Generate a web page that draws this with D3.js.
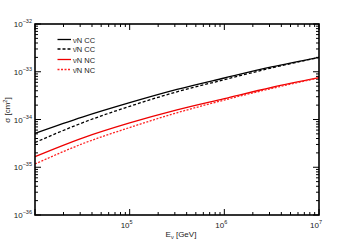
<!DOCTYPE html>
<html>
<head>
<meta charset="utf-8">
<script src="https://cdn.jsdelivr.net/npm/d3@7"></script>
<style>
  body { margin: 0; background: #fff; }
  svg text { font-family: "Liberation Sans", Arial, sans-serif; fill: #222; }
</style>
</head>
<body>
<svg id="chart" width="355" height="240"></svg>
<script>
// energies (GeV) where the curves were read
const energies = [1e4, 3.16e4, 1e5, 3.16e5, 1e6, 3.16e6, 1e7];
// log10 of sigma [cm^2]
const nuCC = [-34.29, -33.95, -33.648, -33.37, -33.131, -32.90, -32.697];
const nubarCC = [-34.482, -34.07, -33.724, -33.42, -33.166, -32.92, -32.70];
const nuNC = [-34.779, -34.39, -34.073, -33.80, -33.564, -33.33, -33.125];
const nubarNC = [-34.932, -34.51, -34.168, -33.86, -33.592, -33.35, -33.13];

const seriesNames = ["\u03BDN CC", "\u03BD\u0304N CC", "\u03BDN NC", "\u03BD\u0304N NC"];
const seriesColors = ["#000", "#000", "#e00", "#f22"];
const seriesDash = [null, "3,2", null, "2,1.5"];

const xTickExp = [5, 6, 7];
const yTickExp = [-32, -33, -34, -35, -36];

const svg = d3.select("#chart");
const pLeft = 35, pRight = 319, pTop = 24, pBottom = 215;

const x = d3.scaleLog().domain([1e4, 1e7]).range([pLeft, pRight]);
const y = d3.scaleLog().domain([1e-36, 1e-32]).range([pBottom, pTop]);

// minor ticks 2..9 per decade
function minorTicks(lo, hi) {
    const out = [];
    for (let e = lo; e < hi; e++) {
        for (let m = 2; m <= 9; m++) out.push(m * Math.pow(10, e));
    }
    return out;
}
const xMinor = minorTicks(4, 7);
const yMinor = minorTicks(-36, -32);
const xMajor = [1e4, 1e5, 1e6, 1e7];
const yMajor = yTickExp.map(e => Math.pow(10, e));

const tickG = svg.append("g").attr("stroke", "#000").attr("stroke-width", 1);
// bottom + top
[[pBottom, -1], [pTop, 1]].forEach(([yy, dir]) => {
    tickG.selectAll(null).data(xMajor).enter().append("line")
        .attr("x1", d => x(d)).attr("x2", d => x(d))
        .attr("y1", yy).attr("y2", yy + dir * 6);
    tickG.selectAll(null).data(xMinor).enter().append("line")
        .attr("x1", d => x(d)).attr("x2", d => x(d))
        .attr("y1", yy).attr("y2", yy + dir * 3);
});
// left + right
[[pLeft, 1], [pRight, -1]].forEach(([xx, dir]) => {
    tickG.selectAll(null).data(yMajor).enter().append("line")
        .attr("y1", d => y(d)).attr("y2", d => y(d))
        .attr("x1", xx).attr("x2", xx + dir * 6);
    tickG.selectAll(null).data(yMinor).enter().append("line")
        .attr("y1", d => y(d)).attr("y2", d => y(d))
        .attr("x1", xx).attr("x2", xx + dir * 3);
});

// curves
const allSeries = [nuCC, nubarCC, nuNC, nubarNC];
const line = d3.line()
    .x((d, i) => x(energies[i]))
    .y(d => y(Math.pow(10, d)))
    .curve(d3.curveMonotoneX);

allSeries.forEach((s, k) => {
    svg.append("path")
        .datum(s)
        .attr("d", line)
        .attr("fill", "none")
        .attr("stroke", seriesColors[k])
        .attr("stroke-width", 1.3)
        .attr("stroke-dasharray", seriesDash[k]);
});

// frame
svg.append("rect")
    .attr("x", pLeft).attr("y", pTop)
    .attr("width", pRight - pLeft).attr("height", pBottom - pTop)
    .attr("fill", "none").attr("stroke", "#000").attr("stroke-width", 1.6);

// y tick labels
yTickExp.forEach(e => {
    const t = svg.append("text")
        .attr("x", 32).attr("y", y(Math.pow(10, e)) + 3)
        .attr("text-anchor", "end")
        .style("font-size", "8px");
    t.append("tspan").text("10");
    t.append("tspan").attr("dy", -4).style("font-size", "5.5px").text("\u2212" + Math.abs(e));
});

// x tick labels
xTickExp.forEach(e => {
    const t = svg.append("text")
        .attr("x", x(Math.pow(10, e)) - 3).attr("y", 228)
        .attr("text-anchor", "middle")
        .style("font-size", "8px");
    t.append("tspan").text("10");
    t.append("tspan").attr("dy", -4).style("font-size", "5.5px").text(e);
});

// axis titles
const xt = svg.append("text")
    .attr("x", 181).attr("y", 237)
    .attr("text-anchor", "middle")
    .style("font-size", "8px");
xt.append("tspan").text("E");
xt.append("tspan").attr("dy", 2).style("font-size", "5.5px").text("\u03BD");
xt.append("tspan").attr("dy", -2).text(" [GeV]");

const yt = svg.append("text")
    .attr("transform", "translate(10,110) rotate(-90)")
    .attr("text-anchor", "middle")
    .style("font-size", "8px");
yt.append("tspan").text("\u03C3 [cm");
yt.append("tspan").attr("dy", -3).style("font-size", "5.5px").text("2");
yt.append("tspan").attr("dy", 3).text("]");

// legend
const legendY = [39.5, 49, 59.5, 69.5];
seriesNames.forEach((name, k) => {
    svg.append("line")
        .attr("x1", 57.5).attr("x2", 71)
        .attr("y1", legendY[k]).attr("y2", legendY[k])
        .attr("stroke", seriesColors[k])
        .attr("stroke-width", 1.3)
        .attr("stroke-dasharray", seriesDash[k]);
    svg.append("text")
        .attr("x", 73).attr("y", legendY[k] + 3)
        .style("font-size", "7.5px")
        .text(name);
});
</script>
</body>
</html>
